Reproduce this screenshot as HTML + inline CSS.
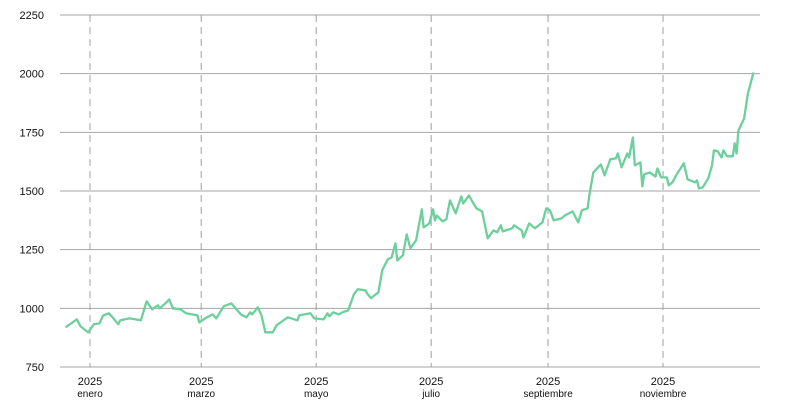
<!DOCTYPE html>
<html><head><meta charset="utf-8"><style>
body{margin:0;background:#fff;}
svg{display:block;font-family:"Liberation Sans",sans-serif;}
</style></head><body>
<svg id="chart" width="797" height="411"></svg>
<script>
const days=[-13,-7,-5,-1,2,5,7,10,12,15,16,21,27,30,33,36,37,40,42,44,48,51,57,58,62,65,67,71,75,80,83,85,86,89,91,93,97,99,105,110,111,117,119,124,126,127,129,132,134,137,140,142,146,147,149,153,155,158,160,162,163,166,168,170,173,176,177,180,182,183,184,187,189,191,194,197,198,201,205,208,211,214,216,218,219,224,225,229,230,233,236,240,242,244,246,250,252,256,259,261,264,265,267,271,273,276,279,280,282,285,286,288,289,292,293,294,297,300,301,303,306,307,309,311,315,317,321,322,323,325,328,330,331,333,335,336,338,341,342,343,344,347,349,352];
const values=[919,953,923,898,932,936,970,979,962,932,949,957,949,1030,996,1013,1000,1021,1038,1000,996,979,970,940,962,974,957,1009,1021,974,962,983,974,1004,970,898,898,928,962,949,970,979,957,953,979,966,983,974,983,991,1060,1081,1077,1064,1043,1068,1162,1209,1217,1277,1204,1226,1315,1256,1290,1422,1345,1362,1422,1375,1396,1371,1379,1460,1405,1477,1447,1481,1426,1413,1298,1332,1324,1354,1328,1341,1354,1332,1302,1362,1341,1366,1426,1418,1375,1383,1396,1413,1366,1418,1426,1486,1579,1613,1567,1635,1639,1660,1601,1660,1643,1728,1609,1622,1520,1571,1579,1562,1596,1558,1558,1524,1537,1567,1618,1550,1537,1545,1511,1515,1554,1609,1673,1669,1643,1673,1648,1648,1703,1660,1758,1809,1916,2005];
const yTicks=[750,1000,1250,1500,1750,2000,2250];
const xTickDays=[0,59,120,181,243,304];
const xTickMonths=["enero","marzo","mayo","julio","septiembre","noviembre"];
const xTickYears=["2025","2025","2025","2025","2025","2025"];

const NS="http://www.w3.org/2000/svg";
const svg=document.getElementById('chart');
const xs=d=>90+d*1.885;
const ys=v=>367-(v-750)*352/1500;
function mk(tag,attrs,parent){const e=document.createElementNS(NS,tag);for(const k in attrs)e.setAttribute(k,attrs[k]);(parent||svg).appendChild(e);return e;}

yTicks.forEach(v=>{
  const l=mk('line',{x1:60,x2:760,y1:ys(v),y2:ys(v),stroke:'#a6a6a6','stroke-width':1});
  
  
  const t=mk('text',{x:44,y:ys(v)+4,'text-anchor':'end','font-size':11,fill:'#111'});
  t.textContent=v;
  
  
});
xTickDays.forEach((d,i)=>{
  const x=xs(d);
  const l=mk('line',{x1:x,x2:x,y1:15,y2:367,stroke:'#a0a0a0','stroke-width':1,'stroke-dasharray':'7,5'});
  
  
  const t1=mk('text',{x:x,y:385,'text-anchor':'middle','font-size':11,fill:'#111'});
  t1.textContent=xTickYears[i];
  
  
  const t2=mk('text',{x:x,y:397,'text-anchor':'middle','font-size':10,fill:'#111'});
  t2.textContent=xTickMonths[i];
  
  
});
const pts=days.map((d,i)=>xs(d).toFixed(1)+','+ys(values[i]).toFixed(1)).join(' ');
const line=mk('polyline',{points:pts,fill:'none',stroke:'#6dcf9c','stroke-width':2.3,'stroke-linejoin':'round'});


</script>
</body></html>
